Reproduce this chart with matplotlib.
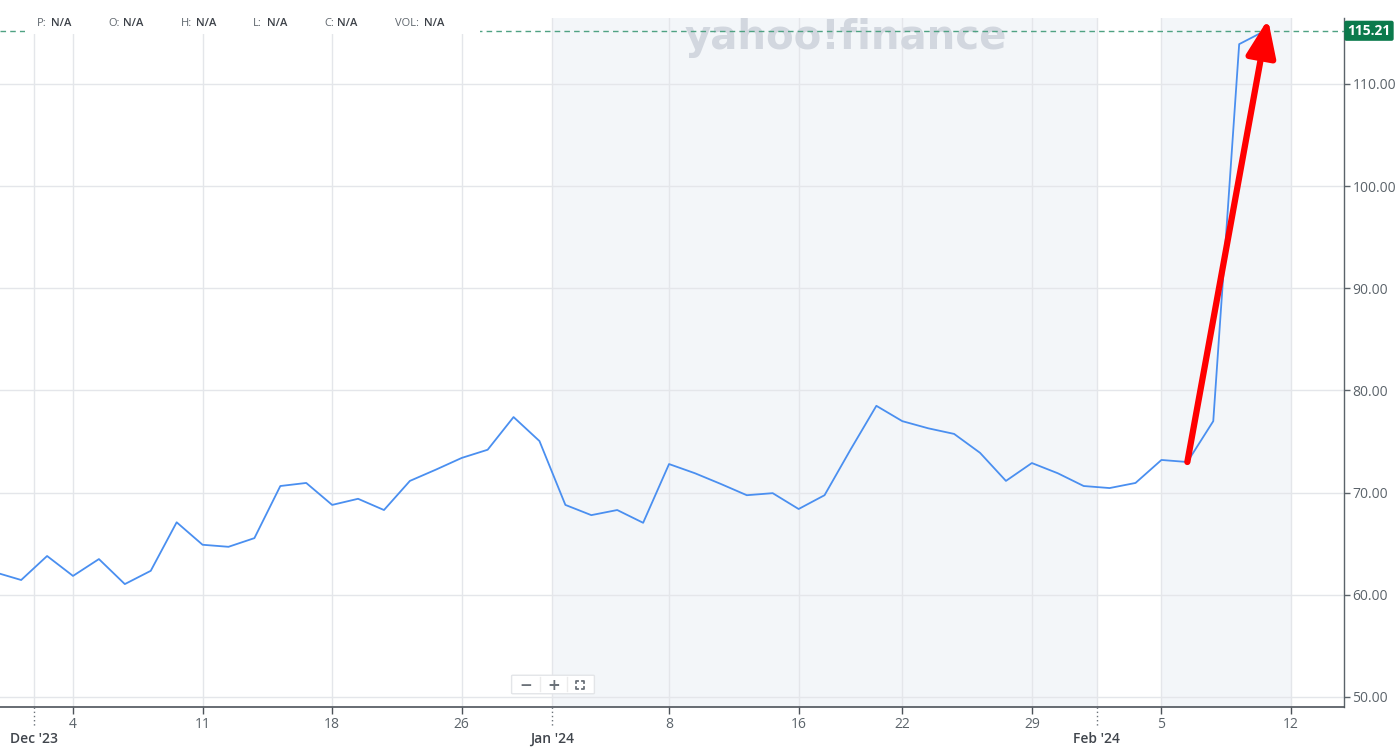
import matplotlib
matplotlib.use('Agg')
import matplotlib.pyplot as plt
from matplotlib.patches import FancyBboxPatch, Rectangle
from matplotlib.lines import Line2D

# ===============================================
# DATA
# ===============================================

# trading days shown on the axis (Feb 12 has no price yet)
trade_days = ['Nov 29', 'Nov 30', 'Dec 1',
              'Dec 4', 'Dec 5', 'Dec 6', 'Dec 7', 'Dec 8',
              'Dec 11', 'Dec 12', 'Dec 13', 'Dec 14', 'Dec 15',
              'Dec 18', 'Dec 19', 'Dec 20', 'Dec 21', 'Dec 22',
              'Dec 26', 'Dec 27', 'Dec 28', 'Dec 29',
              'Jan 2', 'Jan 3', 'Jan 4', 'Jan 5',
              'Jan 8', 'Jan 9', 'Jan 10', 'Jan 11', 'Jan 12',
              'Jan 16', 'Jan 17', 'Jan 18', 'Jan 19',
              'Jan 22', 'Jan 23', 'Jan 24', 'Jan 25', 'Jan 26',
              'Jan 29', 'Jan 30', 'Jan 31', 'Feb 1', 'Feb 2',
              'Feb 5', 'Feb 6', 'Feb 7', 'Feb 8', 'Feb 9',
              'Feb 12']

prices = [62.2, 61.45, 63.8,
          61.85, 63.5, 61.05, 62.35, 67.1,
          64.9, 64.7, 65.55, 70.65, 70.95,
          68.8, 69.4, 68.3, 71.15, 72.25,
          73.4, 74.2, 77.4, 75.05,
          68.8, 67.8, 68.3, 67.05,
          72.8, 71.9, 70.85, 69.75, 69.95,
          68.4, 69.75, 74.2, 78.5,
          77.0, 76.3, 75.75, 73.9, 71.15,
          72.9, 71.9, 70.65, 70.45, 70.95,
          73.2, 73.0, 77.0, 113.9, 115.21]

last_price = 115.21

# x-axis labels
day_ticks = ['Dec 4', 'Dec 11', 'Dec 18', 'Dec 26', 'Jan 8', 'Jan 16',
             'Jan 22', 'Jan 29', 'Feb 5', 'Feb 12']
day_labels = ['4', '11', '18', '26', '8', '16', '22', '29', '5', '12']
month_first_days = ['Dec 1', 'Jan 2', 'Feb 1']
month_labels = ["Dec '23", "Jan '24", "Feb '24"]

y_ticks = [50, 60, 70, 80, 90, 100, 110]

header_keys = ['P:', 'O:', 'H:', 'L:', 'C:', 'VOL:']
header_vals = ['N/A', 'N/A', 'N/A', 'N/A', 'N/A', 'N/A']

pos = {d: i for i, d in enumerate(trade_days)}

# ===============================================
# FIGURE
# ===============================================
W, H = 1400, 747
plt.rcParams['font.family'] = ['Open Sans', 'DejaVu Sans']

fig = plt.figure(figsize=(W / 100, H / 100), dpi=100)
ax_top_px, ax_bot_px, ax_right_px = 18, 707, 1344
ax_h_px = ax_bot_px - ax_top_px
ax = fig.add_axes([0, (H - ax_bot_px) / H, ax_right_px / W, ax_h_px / H])

px_per_day = 25.915
x0 = pos['Dec 4'] - 73 / px_per_day
x1 = pos['Dec 4'] + (ax_right_px - 73) / px_per_day
ax.set_xlim(x0, x1)
ax.set_ylim(49.02, 116.46)

grid_c = '#e4e6ea'
text_c = '#5b636a'

# shaded bands
jan_start = pos['Jan 2'] - 0.5
feb_start = pos['Feb 1'] - 0.5
ax.axvspan(jan_start, feb_start, color='#f3f6f9', zorder=0, lw=0)
ax.axvspan(pos['Feb 5'], pos['Feb 12'], color='#f3f6f9', zorder=0, lw=0)

# grid
for y in y_ticks:
    ax.axhline(y, color=grid_c, lw=1, zorder=1)
for d in day_ticks:
    ax.axvline(pos[d], color=grid_c, lw=1, zorder=1)
for d in month_first_days:
    ax.axvline(pos[d] - 0.5, color=grid_c, lw=1, zorder=1)

# watermark
ax.text(pos['Dec 4'] + (685 - 73) / px_per_day, 113.43, 'yahoo!finance',
        fontsize=29, fontweight='bold', family='DejaVu Sans', color='#d2d7df',
        va='baseline', ha='left', zorder=1.5, clip_on=True)

# last price dashed line
ax.axhline(last_price, color='#4fa283', lw=1, ls=(0, (4, 3)), zorder=2)

# header background + header texts
ax.add_patch(Rectangle((25 / ax_right_px, 1 - 16 / ax_h_px), 455 / ax_right_px,
                       16 / ax_h_px + 0.01, transform=ax.transAxes,
                       facecolor='white', edgecolor='none', zorder=2.5, clip_on=False))
key_x = [37, 108, 181, 253, 324, 395]
val_x = [51, 123, 196, 267, 337, 424]
for k, v, kx, vx in zip(header_keys, header_vals, key_x, val_x):
    fig.text(kx / W, 1 - 24 / H, k, fontsize=8, color='#5f666d', va='center', ha='left')
    fig.text(vx / W, 1 - 24 / H, v, fontsize=8, color='#3c4148', va='center', ha='left',
             fontweight='semibold')

# price line
xs = list(range(len(prices)))
ax.plot(xs, prices, color='#4a8ff0', lw=1.3, zorder=3)

# red arrow
ax.annotate('', xy=(pos['Dec 4'] + (1268 - 73) / px_per_day, 116.35),
            xytext=(pos['Feb 6'], prices[pos['Feb 6']]),
            arrowprops=dict(arrowstyle='-|>,head_length=1.25,head_width=0.5',
                            mutation_scale=18, lw=4.5, color='red',
                            shrinkA=0, shrinkB=0),
            zorder=5, annotation_clip=False)

# spines
for s in ['top', 'left']:
    ax.spines[s].set_visible(False)
ax.spines['bottom'].set_color('#4d535a')
ax.spines['bottom'].set_linewidth(1.2)
ax.spines['right'].set_color('#5b636a')
ax.spines['right'].set_linewidth(1.0)

# y axis on the right
ax.yaxis.tick_right()
ax.set_yticks(y_ticks)
ax.set_yticklabels([f'{v:.2f}' for v in y_ticks])
ax.tick_params(axis='y', length=4, width=1, color='#5b636a', pad=2,
               labelsize=10, labelcolor=text_c)

# x axis
ax.set_xticks([pos[d] for d in day_ticks])
ax.set_xticklabels(day_labels)
ax.tick_params(axis='x', length=5, width=1, color='#4d535a', pad=2,
               labelsize=10, labelcolor=text_c)

xtrans = ax.get_xaxis_transform()
for d, lab in zip(month_first_days, month_labels):
    mx = pos[d] - 0.5
    ax.plot([mx, mx], [0, -20 / ax_h_px], transform=xtrans, color='#6b7279', lw=1,
            ls=(0, (1, 2)), clip_on=False, zorder=4)
    ax.text(mx, -32 / ax_h_px, lab, transform=xtrans, ha='center', va='center',
            fontsize=10, color='#40454c', fontweight='semibold')

# last price tag
ax.text(1.0025, last_price, f'{last_price:.2f}', transform=ax.get_yaxis_transform(),
        ha='left', va='center', fontsize=10, fontweight='bold', color='white',
        bbox=dict(boxstyle='round,pad=0.22,rounding_size=0.15', facecolor='#0b7a4c',
                  edgecolor='none'), zorder=6, clip_on=False)

# zoom control widget
fig.patches.append(FancyBboxPatch((513 / W, 1 - 693 / H), 80 / W, 17 / H,
                                  boxstyle='round,pad=0.001', transform=fig.transFigure,
                                  facecolor='white', edgecolor='#e3e5e8', lw=1, zorder=10))
for dx in [540, 567]:
    fig.lines.append(Line2D([dx / W, dx / W], [1 - 691 / H, 1 - 677 / H],
                            transform=fig.transFigure, color='#ececec', lw=1, zorder=11))
fig.text(526 / W, 1 - 685 / H, '−', fontsize=11, fontweight='bold', color='#6b7279',
         ha='center', va='center', family='DejaVu Sans', zorder=12)
fig.text(554 / W, 1 - 685 / H, '+', fontsize=11, fontweight='bold', color='#6b7279',
         ha='center', va='center', family='DejaVu Sans', zorder=12)
cx, cy, s, c = 580, 685, 4, 2
for sx in (-1, 1):
    for sy in (-1, 1):
        xa, ya = cx + sx * s, cy + sy * s
        fig.lines.append(Line2D([xa / W, xa / W, (xa - sx * c) / W],
                                [1 - (ya - sy * c) / H, 1 - ya / H, 1 - ya / H],
                                transform=fig.transFigure, color='#6b7279', lw=1.3,
                                zorder=12))

fig.savefig('out.png', dpi=100)
plt.close(fig)
